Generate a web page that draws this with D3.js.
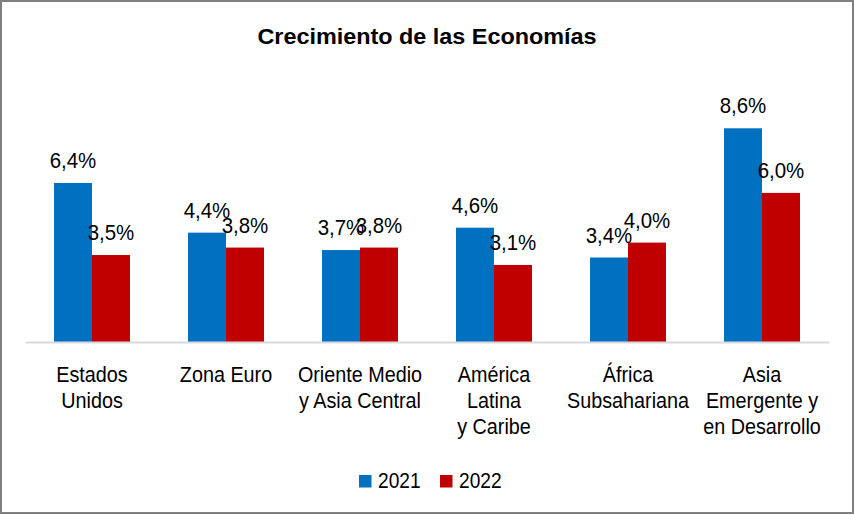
<!DOCTYPE html>
<html>
<head>
<meta charset="utf-8">
<script src="https://cdn.jsdelivr.net/npm/d3@7/dist/d3.min.js"></script>
<style>
html,body{margin:0;padding:0;background:#fff;}
svg{display:block;}
text{font-family:"Liberation Sans",Arial,sans-serif;fill:#000;}
</style>
</head>
<body>
<svg id="chart" width="855" height="515"></svg>
<script>
const categories = [
  ["Estados","Unidos"],
  ["Zona Euro"],
  ["Oriente Medio","y Asia Central"],
  ["América","Latina","y Caribe"],
  ["África","Subsahariana"],
  ["Asia","Emergente y","en Desarrollo"]
];
const seriesNames = ["2021","2022"];
const values2021 = [6.4, 4.4, 3.7, 4.6, 3.4, 8.6];
const values2022 = [3.5, 3.8, 3.8, 3.1, 4.0, 6.0];
const colors = ["#0070C0","#C00000"];
const title = "Crecimiento de las Economías";

const svg = d3.select("#chart");
const W = 855, H = 515;

svg.append("rect").attr("x",1).attr("y",1).attr("width",W-3).attr("height",H-3)
  .attr("fill","#fff").attr("stroke","#808080").attr("stroke-width",2);

svg.append("text").attr("transform","translate(427,44) scale(1.04,1)").attr("text-anchor","middle")
  .attr("font-size",22.5).attr("font-weight","bold").text(title);

const catKeys = categories.map(c=>c.join(" "));
const x0 = d3.scaleBand().domain(catKeys).range([25,829]).paddingInner(0).paddingOuter(0);
const x1 = d3.scaleBand().domain(seriesNames).range([0,x0.bandwidth()]).paddingInner(0).paddingOuter(0.763);
const y = d3.scaleLinear().domain([0,10]).range([342,93.5]);

const data = catKeys.map((k,i)=>({key:k, lines:categories[i], vals:[values2021[i], values2022[i]]}));

const g = svg.append("g");
const groups = g.selectAll("g.grp").data(data).join("g").attr("class","grp")
  .attr("transform",d=>`translate(${x0(d.key)},0)`);

groups.selectAll("rect").data(d=>d.vals.map((v,j)=>({s:seriesNames[j],v,j})))
  .join("rect")
  .attr("x",d=>x1(d.s)).attr("width",x1.bandwidth())
  .attr("y",d=>y(d.v)).attr("height",d=>y(0)-y(d.v))
  .attr("fill",d=>colors[d.j]);

groups.selectAll("text.lbl").data(d=>d.vals.map((v,j)=>({s:seriesNames[j],v,j})))
  .join("text").attr("class","lbl")
  .attr("transform",d=>`translate(${x1(d.s)+x1.bandwidth()/2},${y(d.v)-15}) scale(0.93,1)`)
  .attr("text-anchor","middle").attr("font-size",22)
  .text(d=>d3.format(".1f")(d.v).replace(".",",")+"%");

// axis baseline
const xAxis = d3.axisBottom(x0).tickSize(0).tickFormat("");
const ax = svg.append("g").attr("transform",`translate(0,${y(0)})`).call(xAxis);
ax.select(".domain").attr("stroke","#d9d9d9").attr("stroke-width",2);

// category labels
groups.each(function(d){
  const t = d3.select(this).append("text").attr("text-anchor","middle").attr("font-size",22)
    .attr("transform",`translate(${x0.bandwidth()/2},382) scale(0.9,1)`);
  d.lines.forEach((ln,i)=>{
    t.append("tspan").attr("x",0).attr("y",i*26).text(ln);
  });
});

// legend
const legendItems = [{n:"2021",c:colors[0],x:359},{n:"2022",c:colors[1],x:440}];
const lg = svg.append("g");
legendItems.forEach(it=>{
  lg.append("rect").attr("x",it.x).attr("y",475).attr("width",12.5).attr("height",12.5).attr("fill",it.c);
  lg.append("text").attr("transform",`translate(${it.x+19},488) scale(0.87,1)`).attr("font-size",22).text(it.n);
});
</script>
</body>
</html>
